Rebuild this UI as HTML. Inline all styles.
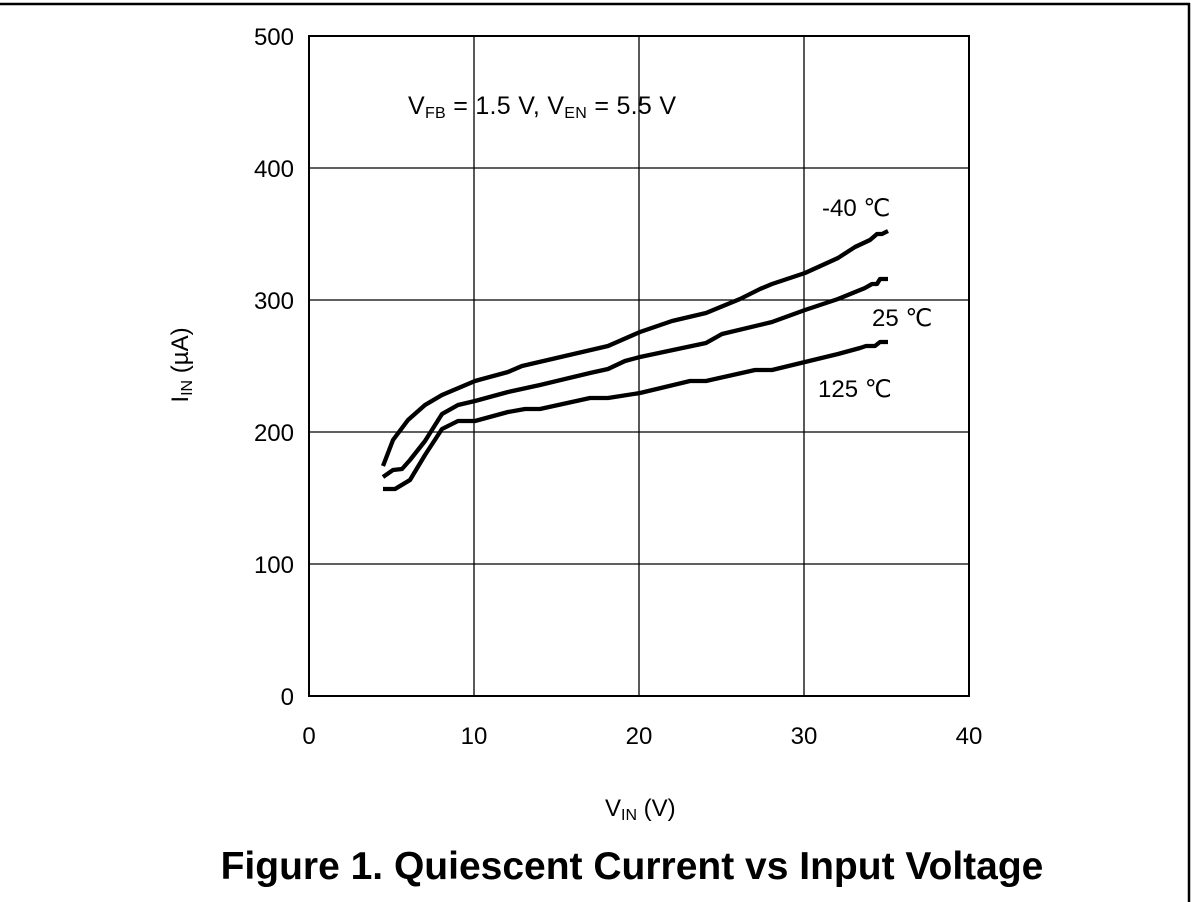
<!DOCTYPE html>
<html><head><style>
html,body{margin:0;padding:0;background:#fff;width:1192px;height:902px;overflow:hidden}
svg{display:block}
text{font-family:"Liberation Sans",Arial,sans-serif;fill:#000}
</style></head><body>
<svg width="1192" height="902" viewBox="0 0 1192 902">
<line x1="0" y1="4" x2="1190" y2="4" stroke="#000" stroke-width="2.5"/>
<line x1="1189" y1="3" x2="1189" y2="902" stroke="#000" stroke-width="2.5"/>
<g stroke="#000" stroke-width="1.3">
<line x1="474" y1="36" x2="474" y2="696"/>
<line x1="639" y1="36" x2="639" y2="696"/>
<line x1="804" y1="36" x2="804" y2="696"/>
<line x1="309" y1="168" x2="969" y2="168"/>
<line x1="309" y1="300" x2="969" y2="300"/>
<line x1="309" y1="432" x2="969" y2="432"/>
<line x1="309" y1="564" x2="969" y2="564"/>
</g>
<rect x="309" y="36" width="660" height="660" fill="none" stroke="#000" stroke-width="2"/>
<g fill="none" stroke="#000" stroke-width="4.3" stroke-linejoin="round">
<polyline points="383,466 393,440 408,420 425,405 442,395 475,381 508,372 522,366 608,346 640,332 672,321 706,313 740,299 760,289 772,284 805,273 838,258 855,247 870,240 877,234 882,234 888,231"/>
<polyline points="383,477 393,470 402,469 410,460 425,441 442,414 458,405 475,401 508,392 540,385 590,373 608,369 625,361 640,357 706,343 722,334 772,322 805,310 838,299 865,288 872,284 877,284 880,279 888,279"/>
<polyline points="383,489 395,489 410,480 425,455 442,429 458,421 475,421 508,412 525,409 540,409 590,398 608,398 640,393 690,381 706,381 755,370 772,370 805,362 838,354 860,348 866,346 875,346 880,342 888,342"/>
</g>
<g font-size="24" text-anchor="end">
<text x="294" y="45">500</text>
<text x="294" y="177">400</text>
<text x="294" y="309">300</text>
<text x="294" y="441">200</text>
<text x="294" y="573">100</text>
<text x="294" y="705">0</text>
</g>
<g font-size="24" text-anchor="middle">
<text x="309" y="744">0</text>
<text x="474" y="744">10</text>
<text x="639" y="744">20</text>
<text x="804" y="744">30</text>
<text x="969" y="744">40</text>
</g>
<text x="408" y="114" font-size="25" textLength="268">V<tspan font-size="16" dy="4">FB</tspan><tspan dy="-4"> = 1.5 V, V</tspan><tspan font-size="16" dy="4">EN</tspan><tspan dy="-4"> = 5.5 V</tspan></text>
<text x="822" y="216" font-size="24">-40 ℃</text>
<text x="872" y="326" font-size="24">25 ℃</text>
<text x="818" y="397" font-size="24">125 ℃</text>
<text x="605" y="816" font-size="24">V<tspan font-size="16" dy="4">IN</tspan><tspan dy="-4"> (V)</tspan></text>
<text transform="translate(188,365) rotate(-90)" font-size="24" text-anchor="middle">I<tspan font-size="16" dy="4">IN</tspan><tspan dy="-4"> (µA)</tspan></text>
<text x="632" y="879" font-size="39" font-weight="bold" text-anchor="middle">Figure 1. Quiescent Current vs Input Voltage</text>
</svg>
</body></html>
